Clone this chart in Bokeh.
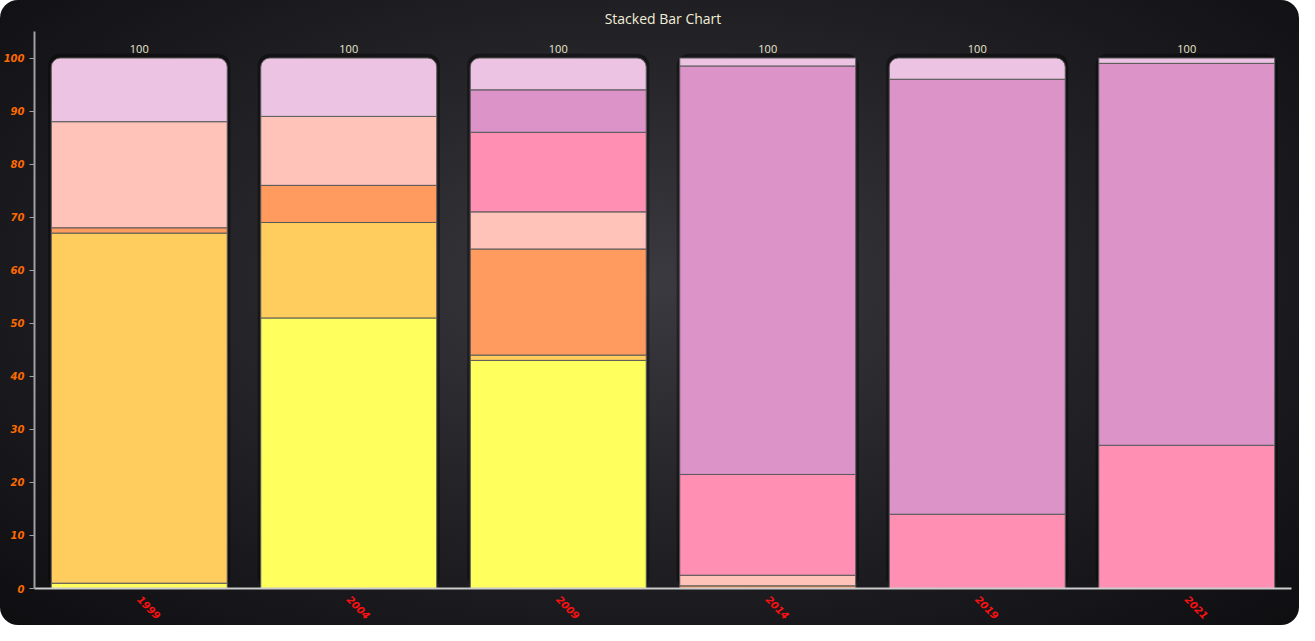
import math
from bokeh.plotting import figure
from bokeh.models import ColumnDataSource, FactorRange, Range1d, LabelSet, SingleIntervalTicker
from bokeh.embed import file_html
from bokeh.resources import INLINE
from bokeh.core.properties import value

# ---- data ----
years = ["1999", "2004", "2009", "2014", "2019", "2021"]
series_names = ["Series 1", "Series 2", "Series 3", "Series 4", "Series 5", "Series 6", "Series 7"]
s1 = [1, 51, 43, 0, 0, 0]
s2 = [66, 18, 1, 0, 0, 0]
s3 = [1, 7, 20, 0.5, 0, 0]
s4 = [20, 13, 7, 2, 0, 0]
s5 = [0, 0, 15, 19, 14, 27]
s6 = [0, 0, 8, 77, 82, 72]
s7 = [12, 11, 6, 1.5, 4, 1]
colors = ["#FFFF5E", "#FFCC5E", "#FF9B5E", "#FFC3BA", "#FF8FB3", "#DB93C8", "#ECC3E2"]
y_ticks_interval = 10

series = [s1, s2, s3, s4, s5, s6, s7]
totals = [sum(v) for v in zip(*series)]

# build segments
seg = dict(year=[], bottom=[], top=[], color=[])
top_seg = dict(year=[], bottom=[], top=[], color=[])
for i, y in enumerate(years):
    base = 0.0
    n_last = max(k for k, s in enumerate(series) if s[i] > 0)
    for k, s in enumerate(series):
        v = s[i]
        if v <= 0:
            continue
        target = top_seg if (k == n_last and v >= 3) else seg
        target["year"].append(y)
        target["bottom"].append(base)
        target["top"].append(base + v)
        target["color"].append(colors[k])
        base += v

p = figure(
    x_range=FactorRange(*years, range_padding=0),
    y_range=Range1d(0, 105),
    width=1299, height=625,
    output_backend="svg", toolbar_location=None,
    title="Stacked Bar Chart",
    min_border_left=27, min_border_right=8, min_border_top=31, min_border_bottom=20,
)
p.styles = {
    "background": "radial-gradient(ellipse at 50% 45%, #3a3a40 0%, #242429 45%, #0e0e11 100%)",
    "border-radius": "18px",
}
p.background_fill_alpha = 0
p.border_fill_alpha = 0
p.outline_line_color = None
p.xgrid.visible = False
p.ygrid.visible = False

p.title.align = "center"
p.title.vertical_align = "top"
p.title.text_color = "#f2eed8"
p.title.text_font = "Open Sans"
p.title.text_font_style = "normal"
p.title.text_font_size = "14px"
p.title.standoff = 4

# shadows behind the stacks
shadow_src = ColumnDataSource(dict(year=years, top=[t + 0.8 for t in totals]))
p.vbar(x="year", top="top", bottom=-0.5, width=0.87, source=shadow_src,
       fill_color="#000000", fill_alpha=0.35, line_color=None, border_radius=12)

p.vbar(x="year", bottom="bottom", top="top", width=0.84, fill_color="color",
       line_color="#5a5a5a", line_width=1, source=ColumnDataSource(seg))
p.vbar(x="year", bottom="bottom", top="top", width=0.84, fill_color="color",
       line_color="#5a5a5a", line_width=1, source=ColumnDataSource(top_seg),
       border_radius=(9, 9, 0, 0))

lab_src = ColumnDataSource(dict(year=years, total=totals, label=[f"{t:g}" for t in totals]))
p.add_layout(LabelSet(x="year", y="total", text="label", source=lab_src,
                      y_offset=5, text_align="center", text_baseline="bottom",
                      text_color="#ebe7cf", text_font=value("Open Sans"),
                      text_font_size="11px"))

# axes
p.yaxis.ticker = SingleIntervalTicker(interval=y_ticks_interval, num_minor_ticks=0)
p.yaxis.major_label_text_color = "#ff6a00"
p.yaxis.major_label_text_font = "DejaVu Sans"
p.yaxis.major_label_text_font_style = "bold italic"
p.yaxis.major_label_text_font_size = "10px"
p.yaxis.axis_line_color = "#a0a0a0"
p.yaxis.axis_line_width = 2
p.yaxis.major_tick_line_color = "#a0a0a0"
p.yaxis.major_tick_out = 5
p.yaxis.major_tick_in = 0
p.yaxis.minor_tick_line_color = None

p.xaxis.major_label_orientation = -math.pi / 4
p.xaxis.major_label_standoff = 3
p.xaxis.major_label_text_color = "#ff1010"
p.xaxis.major_label_text_font = "DejaVu Sans"
p.xaxis.major_label_text_font_style = "bold italic"
p.xaxis.major_label_text_font_size = "10px"
p.xaxis.axis_line_color = "#cccccc"
p.xaxis.axis_line_width = 2
p.xaxis.major_tick_line_color = None
p.xaxis.minor_tick_line_color = None

open("out.html", "w").write(file_html(p, INLINE))
